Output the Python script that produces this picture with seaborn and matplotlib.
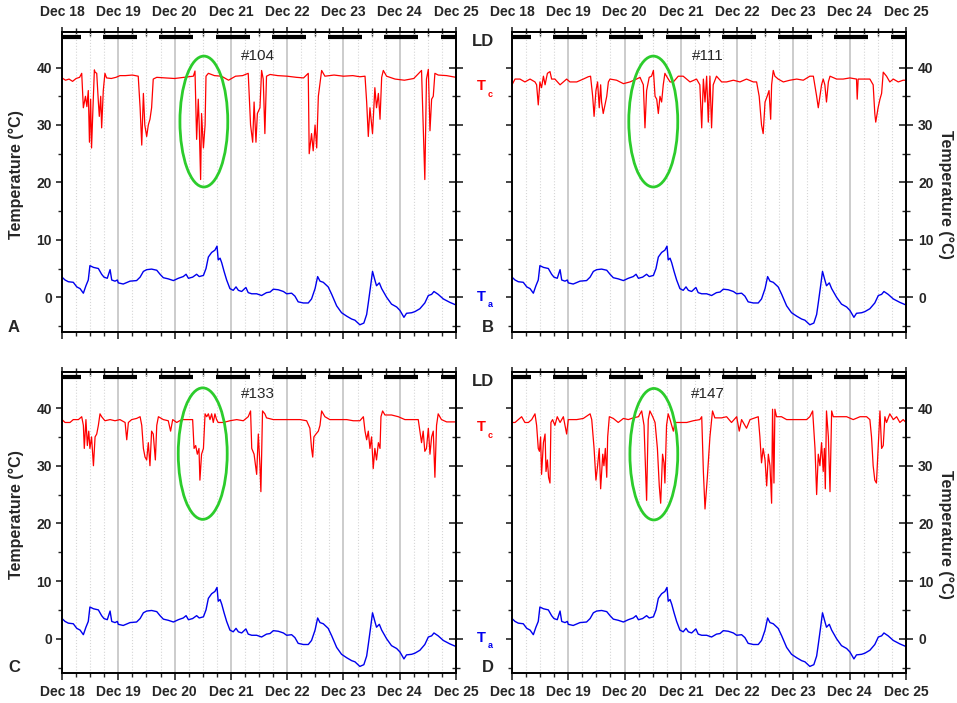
#Body temperature (Tc) and ambient temperature (Ta), Dec 18 - Dec 25, four animals

import numpy as np
import matplotlib
matplotlib.use("Agg")
import matplotlib.pyplot as plt
from matplotlib.patches import Ellipse
import seaborn as sns

#---- data (hours since Dec 18 00:00, degrees C) ----
day_labels = ["Dec 18", "Dec 19", "Dec 20", "Dec 21", "Dec 22", "Dec 23", "Dec 24", "Dec 25"]
animals = ["#104", "#111", "#133", "#147"]
panel_letters = ["A", "B", "C", "D"]

#dark phase of the light/dark cycle (hours)
dark_start = [0, 17.5, 41.5, 65.5, 89.5, 113.5, 137.5, 161.5]
dark_end = [8, 32, 56, 80, 104, 128, 152, 168]

#ambient temperature, same for all panels
ta_hours = [0, 1.3, 2.7, 4.8, 6.3, 7.7, 9.1, 10.2, 11.2, 11.9, 13.4, 15.5, 16.9, 17.9, 19.3,
            20.5, 21.2, 22.6, 23.6, 24.0, 26.1, 29.0, 31.8, 33.3, 34.7, 36.1, 38.2, 40.4, 41.8,
            43.2, 45.3, 47.5, 49.6, 51.7, 52.9, 53.9, 55.7, 57.4, 58.5, 60.3, 61.4, 62.4, 63.8,
            65.2, 66.1, 66.6, 67.4, 68.1, 69.1, 70.2, 71.6, 73.0, 74.2, 75.2, 76.6, 78.4, 79.4,
            80.9, 83.0, 85.1, 87.2, 88.7, 90.1, 92.2, 94.4, 95.8, 97.9, 99.3, 100.7, 102.9, 105.0,
            106.4, 107.9, 109.0, 110.0, 111.4, 113.5, 115.0, 117.1, 119.2, 121.4, 123.5, 124.9,
            127.0, 128.7, 129.9, 130.6, 131.6, 132.4, 133.4, 134.1, 135.3, 136.3, 138.4, 140.5,
            142.7, 144.1, 145.8, 146.9, 149.1, 150.5, 152.6, 154.7, 156.2, 157.6, 158.6, 160.4,
            162.6, 165.4, 167.7]
ta_vals = [3.5, 3.0, 2.7, 2.6, 1.8, 1.5, 0.7, 2.0, 3.0, 5.5, 5.2, 5.0, 4.0, 3.5, 3.3,
           4.8, 3.0, 2.8, 3.0, 2.5, 2.3, 2.8, 2.9, 3.5, 4.5, 4.8, 4.9, 4.7, 4.0,
           3.4, 3.2, 2.9, 3.3, 3.6, 4.0, 3.3, 3.5, 4.0, 3.6, 3.8, 5.0, 7.0, 7.8,
           8.2, 8.9, 6.5, 6.8, 6.0, 4.5, 3.0, 1.5, 1.2, 1.8, 1.2, 1.0, 1.7, 0.8,
           0.6, 0.6, 0.3, 0.8, 0.9, 1.4, 1.3, 1.0, 0.6, 0.7, 0.2, -0.8, -1.0, -1.0,
           -0.3, 1.5, 3.6, 2.8, 2.6, 1.8, 0.5, -1.5, -2.7, -3.3, -3.8, -4.0,
           -4.8, -4.5, -3.0, -1.0, 2.0, 4.5, 3.0, 2.0, 2.5, 1.5, 0.0, -1.2,
           -1.7, -2.3, -3.5, -2.8, -2.7, -2.5, -2.0, -1.0, 0.3, 0.5, 1.0, 0.5,
           -0.3, -0.9, -1.3]

#core body temperature, animal #104
tc104_hours = [0, 1.5, 3, 4.5, 6, 7.5, 8.4, 9.1, 10, 10.6, 11.2, 11.7, 12.2, 12.6, 13.2, 13.8,
               14.1, 14.8, 15.5, 15.9, 16.5, 16.9, 17.6, 18.3, 19.0, 21, 23, 24.7, 27, 30, 32.5,
               33.3, 34.0, 34.7, 35.3, 36.1, 36.8, 37.5, 38.2, 38.9, 40.4, 44, 48, 52, 56.0,
               56.7, 57.4, 58.1, 58.5, 59.1, 59.5, 60.3, 61.0, 61.4, 62.4, 65, 68, 71, 74, 77,
               79.4, 80.4, 81.3, 81.9, 82.7, 83.3, 84.4, 85.1, 85.8, 86.5, 87.2, 88.7, 92, 96,
               100, 103, 105.0, 105.4, 106.4, 107.1, 107.9, 108.6, 109.3, 110.7, 112.1, 116,
               120, 124, 127, 129.2, 129.9, 130.6, 131.3, 132.4, 133.4, 134.1, 134.9, 135.6,
               136.3, 137.0, 138.4, 142.0, 146, 150, 153.3, 154.0, 154.7, 155.4, 156.2, 156.9,
               157.6, 158.3, 159.0, 160.4, 164, 168]
tc104_vals = [38.2, 37.8, 38.0, 37.6, 38.1, 38.3, 39.0, 33.0, 35.0, 33.2, 36.0, 27.0, 34.5, 26.0, 33.0, 39.6,
              39.2, 39.0, 34.0, 31.5, 35.0, 29.5, 36.0, 39.0, 38.2, 38.1, 38.3, 38.6, 38.6, 38.7, 38.5,
              33.0, 26.5, 35.5, 30.0, 28.0, 30.0, 31.0, 33.0, 38.0, 38.3, 38.2, 38.1, 38.3, 38.5,
              39.4, 27.5, 34.5, 30.0, 20.5, 32.0, 26.0, 30.0, 38.5, 39.0, 38.6, 38.5, 37.8, 38.5, 38.6,
              39.0, 30.0, 27.0, 34.0, 27.0, 32.0, 33.0, 39.5, 38.0, 28.5, 38.5, 38.8, 38.6, 38.5,
              38.3, 38.2, 39.0, 25.0, 28.5, 25.5, 30.0, 26.0, 35.0, 39.5, 38.5, 38.7,
              38.5, 38.6, 38.4, 38.5, 34.0, 28.0, 33.0, 28.5, 36.5, 33.0, 35.5, 31.0,
              38.3, 39.5, 38.5, 38.0, 37.8, 38.1, 39.5, 30.0, 20.5, 38.0, 39.7, 29.0,
              34.5, 35.0, 39.0, 38.7, 38.6, 38.3]

#core body temperature, animal #111
tc111_hours = [0, 1.3, 3.4, 5.5, 7.7, 9.8, 10.5, 11.2, 11.9, 12.6, 13.4, 14.1, 15.1, 16.2, 16.9,
               18.3, 20.5, 21.9, 23.3, 24.7, 27.6, 30.4, 32.5, 33.5, 34.4, 35.0, 35.8, 36.5, 37.2,
               37.8, 38.2, 38.9, 40.4, 41.1, 41.8, 44.6, 47.5, 50.3, 53.1, 54.6, 56.0, 56.7, 57.4,
               58.5, 59.5, 60.3, 61.0, 61.7, 62.4, 63.1, 63.8, 64.5, 65.2, 65.9, 67.4, 68.8, 70.9,
               73.0, 75.9, 78.7, 80.1, 80.9, 81.6, 82.3, 83.0, 83.7, 84.4, 85.1, 85.8, 87.2, 89.4,
               91.5, 94.4, 97.2, 100.0, 102.9, 104.3, 105.4, 106.4, 107.1, 107.9, 108.8, 109.6,
               110.3, 110.7, 111.4, 112.1, 113.5, 115.7, 118.5, 121.4, 124.2, 127.0, 128.5, 129.9,
               130.6, 131.3, 132.0, 132.7, 133.4, 134.1, 134.9, 135.6, 138.4, 141.2, 144.1, 146.9,
               147.2, 147.6, 150.5, 152.6, 154.0, 154.7, 155.1, 156.1, 156.9, 157.6, 158.3, 159.7,
               161.1, 162.6, 164.7, 166.8, 168]
tc111_vals = [37.0, 38.0, 38.0, 37.5, 38.0, 37.5, 37.0, 33.5, 37.5, 36.5, 38.5, 37.0, 39.0, 39.3, 38.0,
              38.0, 37.0, 37.5, 38.0, 37.5, 37.5, 38.0, 38.4, 38.5, 35.0, 31.5, 36.0, 37.5, 33.0,
              37.0, 34.0, 32.0, 35.0, 37.5, 38.0, 37.8, 37.2, 37.5, 38.0, 38.3, 37.0, 29.5, 36.0,
              38.3, 38.5, 39.5, 35.0, 34.5, 32.0, 35.0, 34.0, 37.0, 39.0, 38.5, 37.5, 37.5, 38.5,
              38.5, 37.5, 38.0, 37.0, 29.5, 38.0, 34.0, 38.5, 30.5, 38.5, 29.5, 37.0, 38.5, 37.5,
              37.5, 37.8, 37.5, 38.0, 37.5, 37.5, 35.0, 30.0, 28.5, 34.0, 35.0, 36.0,
              31.0, 37.0, 39.5, 38.5, 38.0, 37.5, 37.8, 38.0, 37.8, 38.5, 38.5, 35.0,
              33.0, 35.0, 37.0, 38.0, 37.0, 34.0, 37.5, 38.5, 38.0, 38.0, 38.2, 38.0,
              34.5, 38.0, 38.0, 38.0, 37.0, 32.0, 30.5, 33.0, 34.5, 35.5, 39.2, 38.5,
              37.5, 38.0, 37.5, 37.8, 37.8]

#core body temperature, animal #133
tc133_hours = [0, 1.3, 3.4, 4.8, 7.0, 8.4, 9.1, 9.5, 10.2, 10.8, 11.4, 11.9, 12.6, 13.4, 14.1,
               14.8, 15.5, 16.2, 16.9, 18.3, 20.5, 22.6, 24.7, 26.9, 27.6, 28.3, 29.7, 31.8, 33.3,
               34.0, 34.7, 35.4, 36.1, 36.8, 37.5, 38.2, 38.9, 39.8, 40.4, 41.1, 43.2, 45.3, 46.3,
               47.2, 48.9, 51.0, 53.1, 55.7, 56.3, 57.0, 57.7, 58.4, 58.8, 59.5, 60.3, 61.0, 61.7,
               62.4, 63.1, 63.8, 64.5, 65.2, 65.9, 66.6, 68.8, 71.6, 74.5, 77.3, 79.4, 80.4, 80.9,
               81.9, 83.0, 83.7, 84.4, 84.8, 85.5, 86.5, 87.2, 90.1, 92.9, 95.8, 98.6, 101.5, 104.3,
               105.7, 106.4, 106.9, 107.4, 108.3, 109.3, 110.0, 110.7, 112.1, 114.2, 117.1, 121.4,
               124.2, 127.0, 128.5, 129.2, 129.9, 130.6, 131.3, 132.0, 132.7, 133.4, 134.1, 134.9,
               135.6, 136.0, 136.7, 137.7, 140.5, 143.4, 146.2, 149.1, 151.9, 152.6, 153.3, 154.0,
               154.7, 155.4, 156.2, 156.9, 157.6, 158.3, 159.0, 159.7, 160.4, 161.8, 164.0, 168]
tc133_vals = [38.0, 37.5, 37.5, 38.0, 38.0, 38.5, 37.0, 33.0, 38.0, 33.5, 36.0, 33.0, 35.0, 30.0, 35.0,
              35.5, 37.0, 39.0, 38.5, 37.8, 38.0, 37.8, 38.0, 37.5, 34.5, 37.5, 38.0, 38.2, 38.5,
              37.0, 33.0, 31.5, 31.0, 34.0, 30.0, 36.0, 35.5, 31.0, 37.0, 38.5, 38.0, 37.8, 36.0,
              38.0, 37.5, 38.0, 38.0, 38.0, 33.0, 33.5, 32.0, 33.0, 27.5, 32.0, 33.0, 39.0, 38.5,
              39.0, 38.0, 39.0, 37.5, 39.0, 38.0, 37.5, 37.5, 37.8, 38.0, 37.8, 38.5, 39.5, 33.0,
              32.0, 28.5, 35.5, 30.0, 25.5, 39.5, 39.0, 38.3, 38.0, 38.0, 38.0, 38.0, 38.0, 37.8,
              36.5, 33.0, 31.5, 35.0, 35.5, 36.0, 37.0, 39.5, 38.5, 38.0, 38.0, 38.0,
              37.8, 37.8, 38.5, 36.0, 34.5, 36.0, 33.0, 35.0, 29.5, 33.0, 31.0, 34.0,
              33.0, 38.5, 39.5, 38.8, 38.8, 38.5, 38.0, 38.0, 38.0, 36.0, 34.0, 36.0,
              32.5, 33.0, 36.5, 32.0, 35.0, 36.0, 28.0, 37.0, 39.0, 38.0, 37.6, 37.6]

#core body temperature, animal #147
tc147_hours = [0, 1.3, 2.7, 4.1, 5.5, 7.0, 8.4, 9.8, 10.5, 11.2, 11.7, 12.2, 12.6, 13.4, 14.1,
               14.5, 15.1, 15.6, 16.2, 16.6, 17.3, 18.3, 19.3, 20.5, 21.9, 23.3, 24.0, 25.4, 27.6,
               30.4, 33.3, 34.0, 35.0, 35.8, 36.5, 37.2, 37.8, 38.7, 39.2, 39.8, 40.4, 40.8, 41.5,
               43.2, 45.3, 47.5, 49.6, 51.7, 53.9, 55.3, 56.3, 57.4, 58.1, 58.8, 60.0, 61.0, 62.0,
               62.8, 63.4, 64.2, 64.8, 65.2, 65.9, 66.6, 67.4, 68.1, 68.8, 69.5, 70.9, 74.5, 77.3,
               80.1, 80.9, 81.6, 82.3, 83.3, 84.4, 85.5, 86.5, 89.4, 91.5, 93.6, 95.8, 96.9, 97.9,
               100.0, 101.5, 103.6, 105.0, 105.7, 106.4, 107.1, 107.9, 108.6, 109.3, 110.0, 110.7,
               111.1, 111.7, 112.1, 112.8, 114.9, 117.1, 119.9, 122.8, 125.6, 127.0, 128.2, 129.2,
               129.9, 130.6, 131.3, 132.0, 132.7, 133.2, 133.6, 134.1, 134.9, 135.6, 136.3, 137.0,
               139.8, 142.7, 145.5, 148.4, 151.2, 152.6, 153.3, 154.0, 154.7, 155.4, 156.1, 156.9,
               157.6, 158.3, 159.0, 159.7, 161.1, 162.6, 164.0, 165.4, 166.8, 168]
tc147_vals = [37.5, 37.5, 38.0, 38.5, 37.5, 37.5, 38.0, 39.0, 37.0, 33.0, 32.5, 35.0, 28.5, 34.0, 35.5,
              29.0, 31.0, 28.0, 27.0, 37.5, 38.0, 37.0, 38.5, 37.5, 38.5, 35.5, 38.0, 38.0, 38.0,
              38.2, 39.0, 38.0, 33.0, 27.5, 30.0, 33.0, 26.0, 32.0, 30.0, 33.0, 28.0, 35.0, 38.5,
              38.2, 37.5, 38.2, 38.0, 38.3, 38.5, 39.5, 37.0, 24.0, 38.0, 39.5, 38.5, 37.5, 33.0,
              26.5, 23.5, 32.0, 30.5, 27.0, 37.0, 39.0, 38.0, 37.0, 36.0, 37.5, 37.5, 37.5, 37.8,
              38.0, 38.5, 29.0, 22.5, 28.0, 35.0, 39.5, 38.3, 38.3, 38.5, 37.5, 38.5, 36.0, 38.0,
              36.5, 38.0, 38.3, 38.5, 35.0, 30.5, 33.0, 31.0, 26.5, 32.0, 30.0, 23.5,
              39.8, 27.0, 39.8, 38.5, 38.5, 38.0, 38.0, 38.0, 38.0, 38.5, 39.5, 33.0,
              25.0, 32.0, 30.0, 34.0, 29.0, 33.0, 26.0, 39.5, 35.0, 25.5, 39.5, 38.5,
              38.5, 38.5, 38.0, 38.5, 38.5, 38.0, 35.0, 30.0, 27.5, 27.0, 33.0, 39.5,
              33.0, 33.5, 38.5, 37.5, 39.0, 38.0, 38.5, 37.5, 38.0, 37.5]

tc_hours = [tc104_hours, tc111_hours, tc133_hours, tc147_hours]
tc_vals = [tc104_vals, tc111_vals, tc133_vals, tc147_vals]

#---- styling ----
sns.set_style("ticks")
plt.rcParams['font.family'] = ['Liberation Sans', 'DejaVu Sans']
plt.rcParams['font.weight'] = 'bold'
plt.rcParams['axes.linewidth'] = 1.4

RED = '#ff0000'
BLUE = '#0000ee'
GREEN = '#2ccc2c'

fig = plt.figure(figsize=(9.57, 7.03), dpi=100)

#axes rectangles in figure fraction
rects = [[0.0648, 0.5282, 0.4117, 0.4263],
         [0.5350, 0.5282, 0.4117, 0.4263],
         [0.0648, 0.0422, 0.4117, 0.4282],
         [0.5350, 0.0422, 0.4117, 0.4282]]
ellipse_centers = [(2.52, 30.6), (2.51, 30.6), (2.50, 32.1), (2.52, 32.0)]
ellipse_widths = [0.85, 0.87, 0.87, 0.85]

major_x = np.arange(0, 8)
minor_x = [d + q / 4 for d in range(7) for q in (1, 2, 3)]

for i in range(4):
    ax = fig.add_axes(rects[i])
    top_row = i < 2
    right_col = i % 2 == 1

    sns.lineplot(x=np.array(tc_hours[i]) / 24, y=tc_vals[i], ax=ax, color=RED, lw=0.9,
                 estimator=None, sort=False)
    sns.lineplot(x=np.array(ta_hours) / 24, y=ta_vals, ax=ax, color=BLUE, lw=1.0,
                 estimator=None, sort=False)

    ax.set_xlim(0, 7)
    ax.set_ylim(-6, 46.2)

    #vertical grid: solid at days, dotted every 6 h
    ax.set_xticks(major_x)
    ax.set_xticks(minor_x, minor=True)
    ax.set_axisbelow(True)
    ax.grid(axis='x', which='major', color='#c4c4c4', lw=1.2)
    ax.grid(axis='x', which='minor', color='#d6d6d6', lw=0.8, ls=':')
    ax.grid(axis='y', visible=False)

    ax.set_yticks([0, 10, 20, 30, 40])
    ax.set_yticks([-5, 5, 15, 25, 35], minor=True)

    ax.tick_params(axis='x', which='major', direction='out', length=4.7, width=1.2,
                   labelsize=10, pad=3.5, labelbottom=not top_row)
    ax.tick_params(axis='x', which='minor', direction='out', length=3.2, width=1.0)
    ax.tick_params(axis='y', which='major', direction='out', length=4.3, width=1.2,
                   labelsize=10, pad=3, labelleft=not right_col)
    ax.tick_params(axis='y', which='minor', direction='out', length=3.1, width=1.0)
    ax.set_xticklabels(day_labels if not top_row else [])
    ax.set_xlabel('')
    ax.set_ylabel('')
    for s in ax.spines.values():
        s.set_visible(True)
        s.set_color('black')

    #top axis with inout ticks
    sx = ax.secondary_xaxis('top')
    sx.set_xticks(major_x)
    sx.set_xticks(minor_x, minor=True)
    sx.tick_params(axis='x', which='major', direction='inout', length=7.2, width=1.2,
                   labelsize=10, pad=6)
    sx.tick_params(axis='x', which='minor', direction='inout', length=5.8, width=1.0)
    sx.set_xticklabels(day_labels if top_row else [])

    #right axis with inout ticks
    sy = ax.secondary_yaxis('right')
    sy.set_yticks([0, 10, 20, 30, 40])
    sy.set_yticks([-5, 5, 15, 25, 35], minor=True)
    sy.tick_params(axis='y', which='major', direction='inout', length=9.4, width=1.2,
                   labelsize=10, pad=4)
    sy.tick_params(axis='y', which='minor', direction='inout', length=6, width=1.0)
    if not right_col:
        sy.set_yticklabels([])

    #LD bars under the top axis
    ax.hlines([45.3] * len(dark_start), np.array(dark_start) / 24, np.array(dark_end) / 24,
              color='black', lw=3.0, clip_on=False)

    #highlight of Dec 20 day
    ax.add_patch(Ellipse(ellipse_centers[i], width=ellipse_widths[i], height=22.8,
                         fill=False, ec=GREEN, lw=2.0, zorder=5))

    ax.text(3.48, 42.1 if top_row else 42.5, animals[i], ha='center', va='center',
            fontsize=11, fontweight='normal')

#panel letters
for (x, y), letter in zip([(14, 328), (488, 328), (14, 668), (488, 668)], panel_letters):
    fig.text(x / 957, 1 - y / 703, letter, ha='center', va='center', fontsize=12)

#row labels between panels
for off in (0, 340.5):
    fig.text(483 / 957, 1 - (41 + off) / 703, "LD", ha='center', va='center', fontsize=12)
    fig.text(481.5 / 957, 1 - (86.5 + off) / 703, "T", ha='center', va='center',
             fontsize=10.5, color=RED)
    fig.text(490 / 957, 1 - (94.5 + off) / 703, "c", ha='center', va='center',
             fontsize=6.5, color=RED)
    fig.text(481 / 957, 1 - (297 + off) / 703, "T", ha='center', va='center',
             fontsize=10.5, color=BLUE)
    fig.text(490 / 957, 1 - (304.5 + off) / 703, "a", ha='center', va='center',
             fontsize=6.5, color=BLUE)

#axis titles
fig.text(16 / 957, 1 - 174.5 / 703, "Temperature (°C)", rotation=90, ha='center',
         va='center', fontsize=11.5)
fig.text(16 / 957, 1 - 515 / 703, "Temperature (°C)", rotation=90, ha='center',
         va='center', fontsize=11.5)
fig.text(946 / 957, 1 - 194 / 703, "Temperature (°C)", rotation=270, ha='center',
         va='center', fontsize=11.5)
fig.text(946 / 957, 1 - 534 / 703, "Temperature (°C)", rotation=270, ha='center',
         va='center', fontsize=11.5)

fig.savefig("out.png", dpi=100)
